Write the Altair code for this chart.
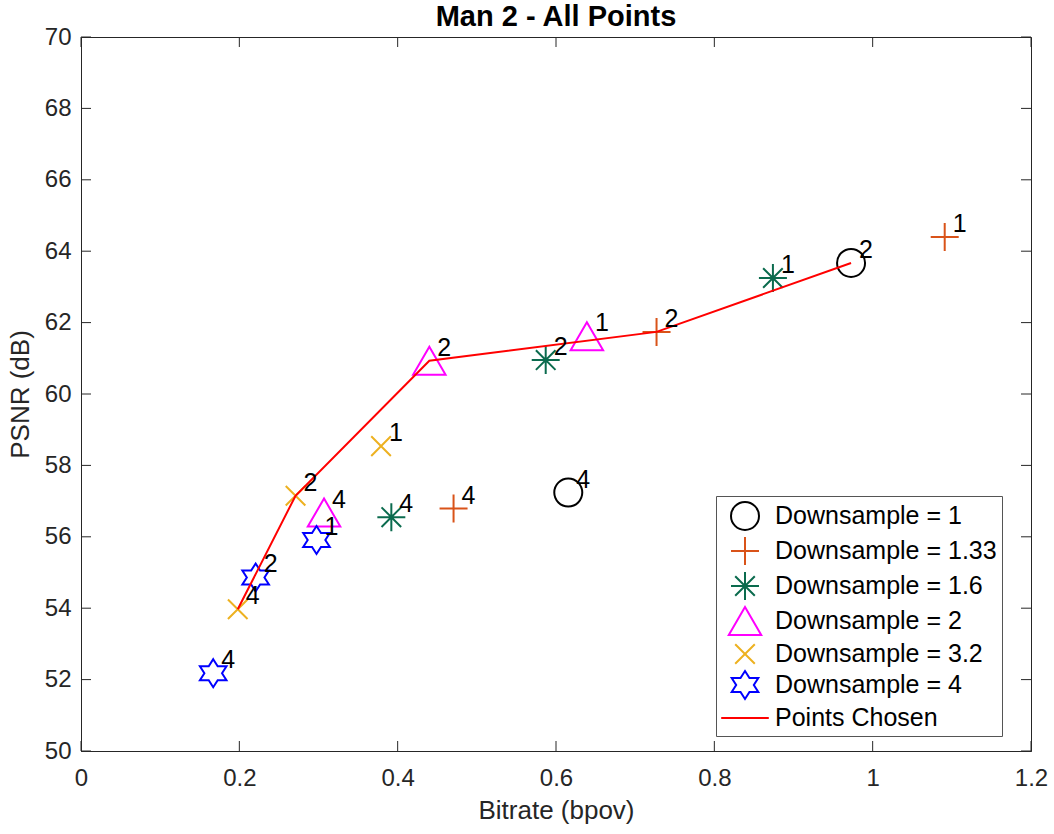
import altair as alt
import pandas as pd

FONT = "Liberation Sans"

series_names = ["Downsample = 1", "Downsample = 1.33", "Downsample = 1.6",
                "Downsample = 2", "Downsample = 3.2", "Downsample = 4", "Points Chosen"]
series_colors = ["#000000", "#D95319", "#0B6B4E", "#FF00FF", "#EDB120", "#0000FF", "#FF0000"]
series_shapes = [
    "circle",
    "M-1,0L1,0M0,-1L0,1",
    "M-1,0L1,0M0,-1L0,1M-0.7,-0.7L0.7,0.7M-0.7,0.7L0.7,-0.7",
    "M0,-1L-1.16,1L1.16,1Z",
    "M-0.7,-0.7L0.7,0.7M-0.7,0.7L0.7,-0.7",
    "M0,-1L0.32,-0.5L0.95,-0.5L0.63,0L0.95,0.5L0.32,0.5L0,1L-0.32,0.5L-0.95,0.5L-0.63,0L-0.95,-0.5L-0.32,-0.5Z",
    "M-1.7,0L1.7,0",
]

# Values
ds1_rate = [0.9727, 0.6155]
ds1_psnr = [63.67, 57.24]
ds1_lab = ["2", "4"]

ds133_rate = [1.091, 0.727, 0.4706]
ds133_psnr = [64.40, 61.74, 56.79]
ds133_lab = ["1", "2", "4"]

ds16_rate = [0.874, 0.587, 0.392]
ds16_psnr = [63.25, 60.95, 56.55]
ds16_lab = ["1", "2", "4"]

ds2_rate = [0.639, 0.440, 0.307]
ds2_psnr = [61.62, 60.93, 56.68]
ds2_lab = ["1", "2", "4"]

ds32_rate = [0.379, 0.271, 0.198]
ds32_psnr = [58.54, 57.15, 53.97]
ds32_lab = ["1", "2", "4"]

ds4_rate = [0.2975, 0.2206, 0.167]
ds4_psnr = [55.91, 54.86, 52.18]
ds4_lab = ["1", "2", "4"]

chosen_rate = [0.198, 0.271, 0.440, 0.727, 0.9727]
chosen_psnr = [53.97, 57.15, 60.93, 61.74, 63.67]

x_ticks = [0, 0.2, 0.4, 0.6, 0.8, 1.0, 1.2]
y_ticks = [50, 52, 54, 56, 58, 60, 62, 64, 66, 68, 70]

rows = []
for name, r, p, l in [
    (series_names[0], ds1_rate, ds1_psnr, ds1_lab),
    (series_names[1], ds133_rate, ds133_psnr, ds133_lab),
    (series_names[2], ds16_rate, ds16_psnr, ds16_lab),
    (series_names[3], ds2_rate, ds2_psnr, ds2_lab),
    (series_names[4], ds32_rate, ds32_psnr, ds32_lab),
    (series_names[5], ds4_rate, ds4_psnr, ds4_lab),
]:
    for a, b, c in zip(r, p, l):
        rows.append({"bitrate": a, "psnr": b, "series": name, "label": c})
df = pd.DataFrame(rows)
chosen_df = pd.DataFrame({"bitrate": chosen_rate, "psnr": chosen_psnr})
xt_df = pd.DataFrame({"bitrate": x_ticks})
yt_df = pd.DataFrame({"psnr": y_ticks})

W, H = 950, 714
TICK = 10
XT = "Bitrate (bpov)"
YT = "PSNR (dB)"
xs = alt.Scale(domain=[0, 1.2], nice=False, zero=False)
ys = alt.Scale(domain=[50, 70], nice=False, zero=False)

legend = alt.Legend(
    title=None, orient="none", legendX=635, legendY=459,
    labelFont=FONT, labelFontSize=25, labelColor="#000000", labelLimit=500,
    symbolSize=784, symbolStrokeWidth=2, symbolOpacity=1,
    symbolOffset=9, labelOffset=15, rowPadding=-1, padding=5,
    strokeColor="#555555", fillColor="#FFFFFF",
)

x_enc = alt.X("bitrate:Q", scale=xs, title=XT,
              axis=alt.Axis(values=x_ticks, format="~g", titleY=67, titleBaseline="alphabetic"))
y_enc = alt.Y("psnr:Q", scale=ys, title=YT,
              axis=alt.Axis(values=y_ticks, titleX=-53, titleY=H / 2, titleBaseline="alphabetic"))

points = alt.Chart(df).mark_point(filled=False, size=784, strokeWidth=2, opacity=1).encode(
    x=x_enc, y=y_enc,
    shape=alt.Shape("series:N", scale=alt.Scale(domain=series_names, range=series_shapes), legend=legend),
    color=alt.Color("series:N", scale=alt.Scale(domain=series_names, range=series_colors), legend=legend),
)

line = alt.Chart(chosen_df).mark_line(color="#FF0000", strokeWidth=2).encode(
    x=alt.X("bitrate:Q", scale=xs, title=XT),
    y=alt.Y("psnr:Q", scale=ys, title=YT),
)

labels = alt.Chart(df).mark_text(align="left", baseline="middle", dx=8, dy=-13,
                                 fontSize=25, font=FONT, color="#000000").encode(
    x=alt.X("bitrate:Q", scale=xs, title=XT),
    y=alt.Y("psnr:Q", scale=ys, title=YT),
    text="label:N",
)

tick_color = "#262626"
xt_bottom = alt.Chart(xt_df).mark_rule(color=tick_color, strokeWidth=1).encode(
    x=alt.X("bitrate:Q", scale=xs, title=XT), y=alt.value(H), y2=alt.value(H - TICK))
xt_top = alt.Chart(xt_df).mark_rule(color=tick_color, strokeWidth=1).encode(
    x=alt.X("bitrate:Q", scale=xs, title=XT), y=alt.value(0), y2=alt.value(TICK))
yt_left = alt.Chart(yt_df).mark_rule(color=tick_color, strokeWidth=1).encode(
    y=alt.Y("psnr:Q", scale=ys, title=YT), x=alt.value(0), x2=alt.value(TICK))
yt_right = alt.Chart(yt_df).mark_rule(color=tick_color, strokeWidth=1).encode(
    y=alt.Y("psnr:Q", scale=ys, title=YT), x=alt.value(W), x2=alt.value(W - TICK))

chart = alt.layer(xt_bottom, xt_top, yt_left, yt_right, points, line, labels).properties(
    width=W, height=H,
    title=alt.Title("Man 2 - All Points", font=FONT, fontSize=29, fontWeight="bold",
                    color="#000000", baseline="alphabetic", offset=0, dy=30,
                    anchor="middle", frame="group"),
    autosize=alt.AutoSizeParams(type="none"),
    padding={"left": 81, "top": 37, "right": 23, "bottom": 83},
    background="#FFFFFF",
).configure_view(
    stroke="#262626", strokeWidth=1
).configure_axis(
    grid=False, ticks=False, tickSize=0, domain=True, domainColor="#262626", domainWidth=1,
    labelFont=FONT, labelFontSize=24, labelColor="#262626", labelFlush=False,
    titleFont=FONT, titleFontSize=26, titleFontWeight="normal", titleColor="#262626",
).configure_axisX(
    labelPadding=15
).configure_axisY(
    labelPadding=10
)

chart.save("out.html", embed_options={"renderer": "svg", "actions": False})
